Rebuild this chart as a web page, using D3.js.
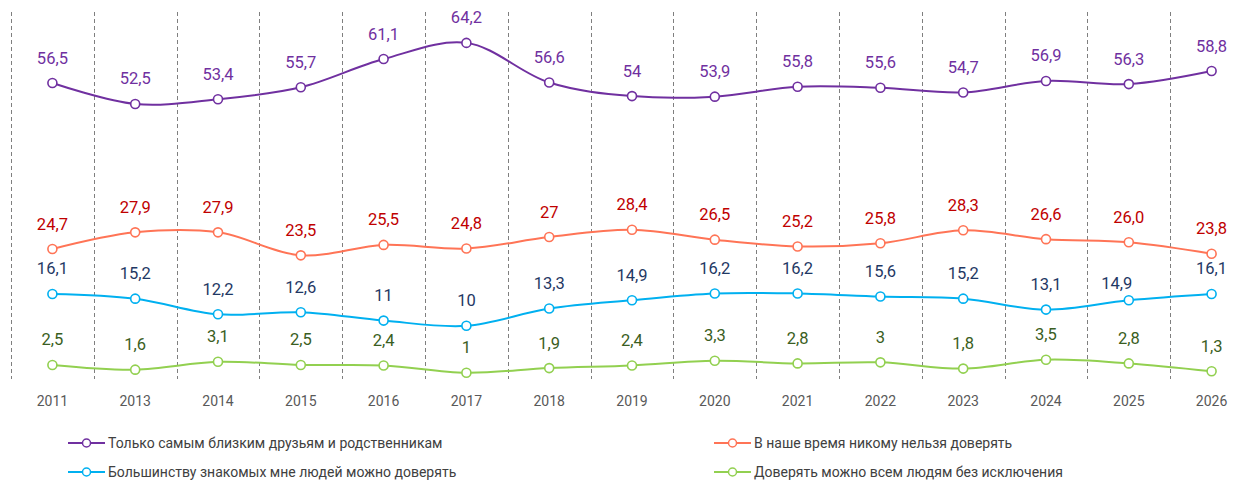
<!DOCTYPE html>
<html>
<head>
<meta charset="utf-8">
<script src="https://cdn.jsdelivr.net/npm/d3@7"></script>
<style>
  body { margin: 0; background: #fff; }
  svg text { font-family: Roboto, "Noto Sans", sans-serif; }
</style>
</head>
<body>
<div id="chart"></div>
<script>
// Years on the x axis
const years = ['2011', '2013', '2014', '2015', '2016', '2017', '2018', '2019',
               '2020', '2021', '2022', '2023', '2024', '2025', '2026'];

// Values as printed on the chart (comma decimals)
const closeOnly = ['56,5', '52,5', '53,4', '55,7', '61,1', '64,2', '56,6', '54',
                   '53,9', '55,8', '55,6', '54,7', '56,9', '56,3', '58,8'];
const nobody = ['24,7', '27,9', '27,9', '23,5', '25,5', '24,8', '27', '28,4',
                '26,5', '25,2', '25,8', '28,3', '26,6', '26,0', '23,8'];
const mostKnown = ['16,1', '15,2', '12,2', '12,6', '11', '10', '13,3', '14,9',
                   '16,2', '16,2', '15,6', '15,2', '13,1', '14,9', '16,1'];
const everyone = ['2,5', '1,6', '3,1', '2,5', '2,4', '1', '1,9', '2,4',
                  '3,3', '2,8', '3', '1,8', '3,5', '2,8', '1,3'];

const seriesNames = [
    'Только самым близким друзьям и родственникам',
    'В наше время никому нельзя доверять',
    'Большинству знакомых мне людей можно доверять',
    'Доверять можно всем людям без исключения'
];

const series = [
    { name: seriesNames[0], values: closeOnly, line: '#7030A0', label: '#7030A0' },
    { name: seriesNames[1], values: nobody,    line: '#FF7456', label: '#C00000' },
    { name: seriesNames[2], values: mostKnown, line: '#00B0F0', label: '#1F3864' },
    { name: seriesNames[3], values: everyone,  line: '#92D050', label: '#3A5E22' }
];

const toNum = s => +s.replace(',', '.');

const width = 1247, height = 481;
const svg = d3.select('#chart').append('svg')
    .attr('width', width)
    .attr('height', height);

const x = d3.scaleBand()
    .domain(years)
    .range([11, 11 + 82.8 * years.length]);

const y = d3.scaleLinear()
    .domain([0, 70])
    .range([378, 12.6]);

// dashed vertical separators between categories
svg.append('g')
    .selectAll('line')
    .data(years)
    .enter()
    .append('line')
    .attr('x1', d => Math.round(x(d)) + 0.5)
    .attr('x2', d => Math.round(x(d)) + 0.5)
    .attr('y1', 12)
    .attr('y2', 379)
    .attr('stroke', '#7f7f7f')
    .attr('stroke-width', 1)
    .attr('stroke-dasharray', '4,3');

// x axis labels
const xAxis = svg.append('g')
    .attr('transform', 'translate(0,396)')
    .call(d3.axisBottom(x).tickSize(0).tickPadding(0));
xAxis.select('.domain').remove();
xAxis.selectAll('text')
    .attr('dy', '0.71em')
    .attr('fill', '#595959')
    .style('font-family', 'Roboto, sans-serif')
    .style('font-size', '14px');

const cx = d => x(d) + x.bandwidth() / 2;

const line = d3.line()
    .x(d => cx(d.year))
    .y(d => y(d.v))
    .curve(d3.curveCatmullRom.alpha(0.5));

// small manual nudges for labels that were moved in the original
const nudge = { '2-13': [-12, 8] };

series.forEach((s, si) => {
    const pts = s.values.map((t, i) => ({ year: years[i], v: toNum(t), text: t, i }));
    const g = svg.append('g');

    g.append('path')
        .datum(pts)
        .attr('fill', 'none')
        .attr('stroke', s.line)
        .attr('stroke-width', 2)
        .attr('d', line);

    g.selectAll('circle')
        .data(pts)
        .enter()
        .append('circle')
        .attr('cx', d => cx(d.year))
        .attr('cy', d => y(d.v))
        .attr('r', 4.5)
        .attr('fill', '#fff')
        .attr('stroke', s.line)
        .attr('stroke-width', 1.6);

    g.selectAll('text')
        .data(pts)
        .enter()
        .append('text')
        .attr('x', d => cx(d.year) + ((nudge[si + '-' + d.i] || [0, 0])[0]))
        .attr('y', d => y(d.v) - 19.5 + ((nudge[si + '-' + d.i] || [0, 0])[1]))
        .attr('text-anchor', 'middle')
        .attr('fill', s.label)
        .style('font-size', '16.5px')
        .text(d => d.text);
});

// legend, two columns by two rows
const legendPos = [[68, 443], [714, 443], [68, 472], [714, 472]];
series.forEach((s, i) => {
    const [lx, ly] = legendPos[i];
    const g = svg.append('g').attr('transform', `translate(${lx},${ly})`);
    g.append('line')
        .attr('x1', 0).attr('x2', 37)
        .attr('y1', 0).attr('y2', 0)
        .attr('stroke', s.line)
        .attr('stroke-width', 2);
    g.append('circle')
        .attr('cx', 18.5).attr('cy', 0).attr('r', 4)
        .attr('fill', '#fff')
        .attr('stroke', s.line)
        .attr('stroke-width', 1.5);
    g.append('text')
        .attr('x', 40)
        .attr('y', 0)
        .attr('dy', '0.35em')
        .attr('fill', '#404040')
        .style('font-size', '14px')
        .text(s.name);
});
</script>
</body>
</html>
